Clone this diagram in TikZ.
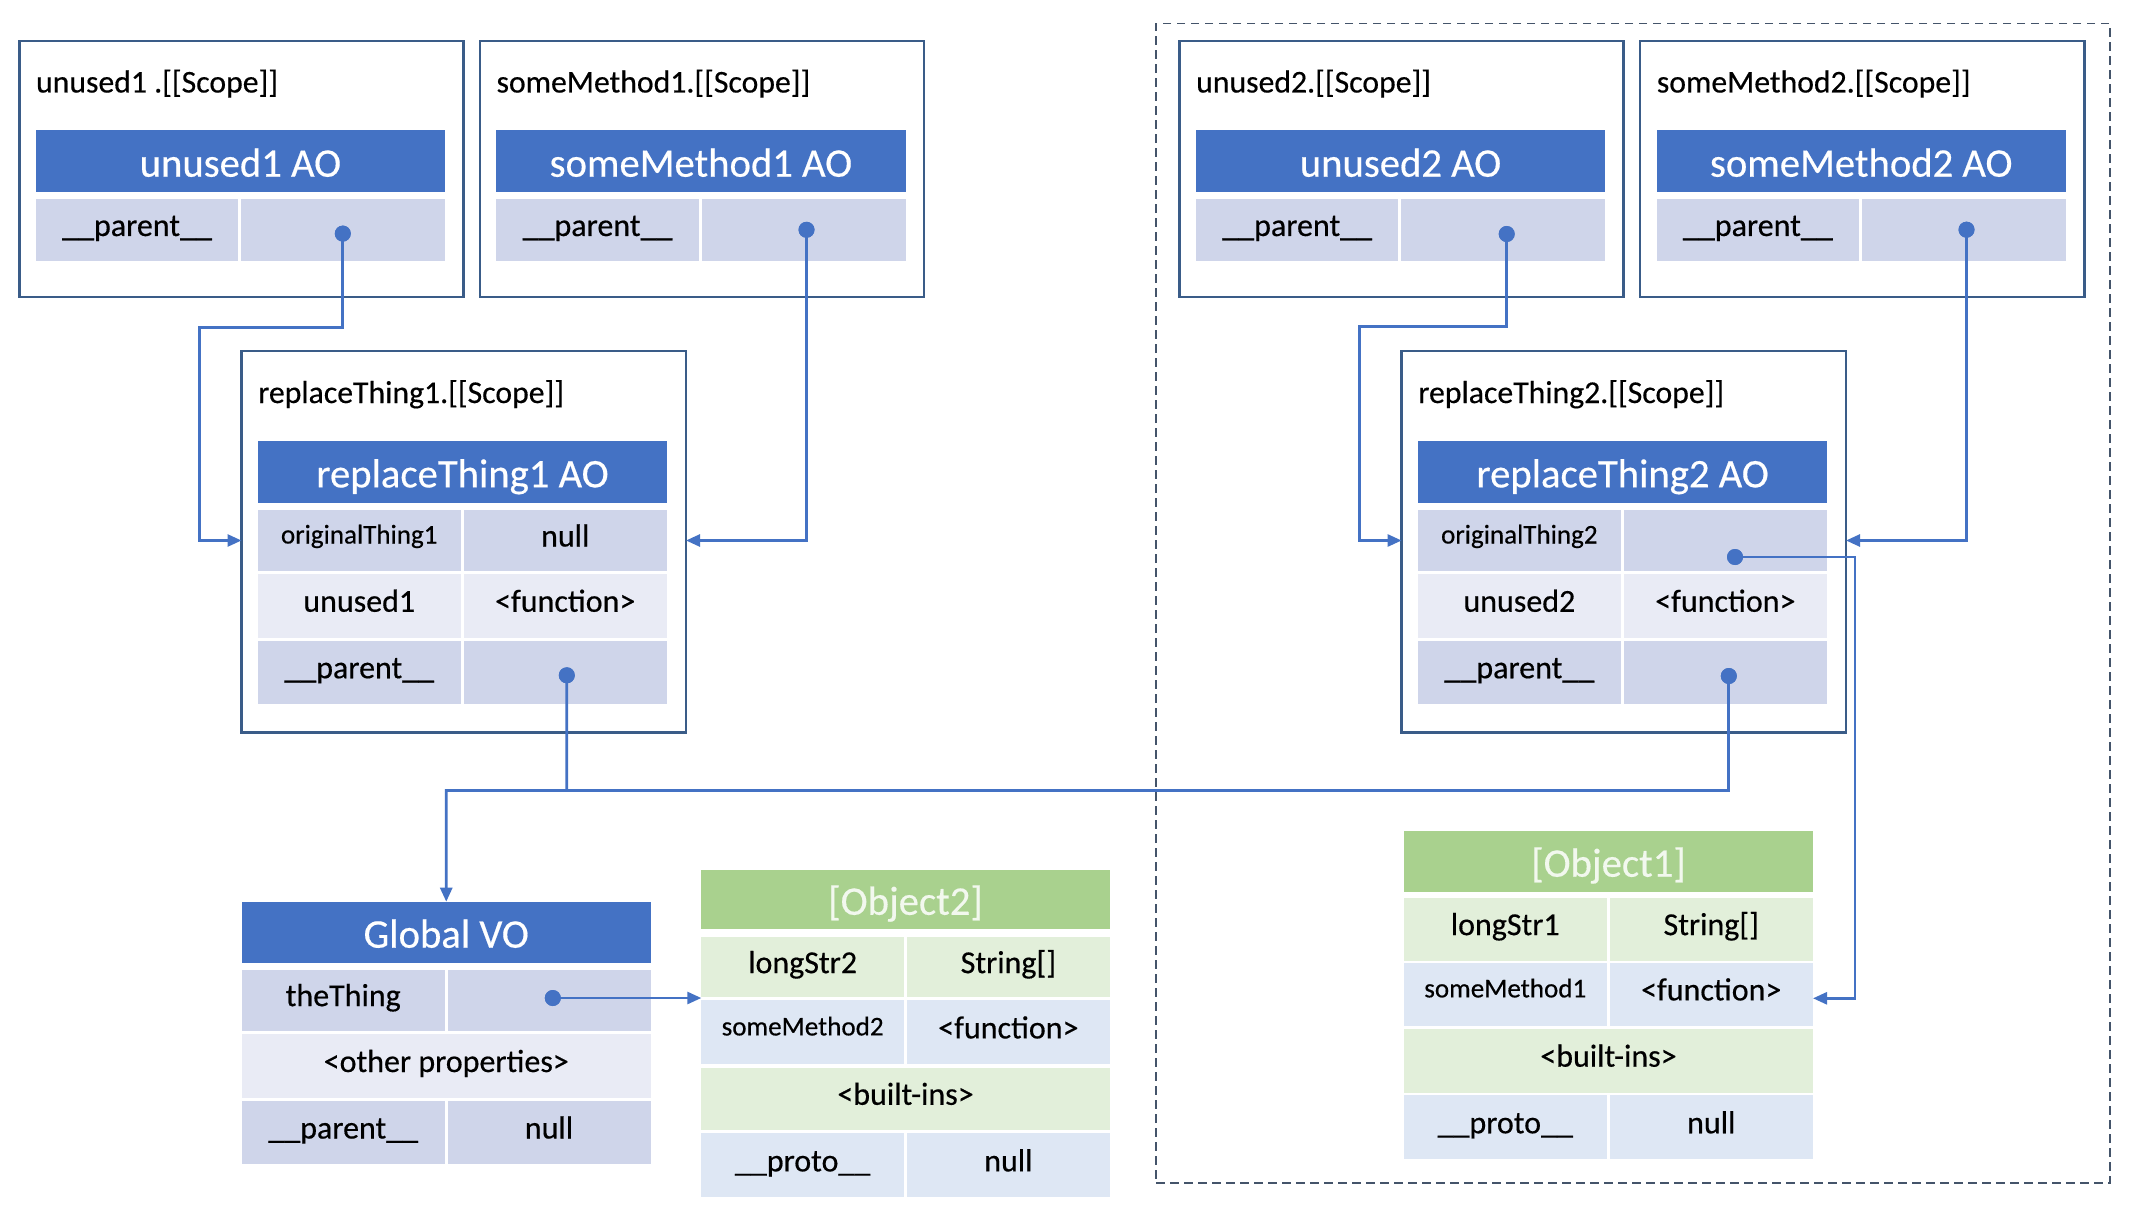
\documentclass[tikz,border=0pt]{standalone}
\usepackage{fontspec}
\setmainfont{Carlito}[FakeBold=0.4]
\usetikzlibrary{arrows.meta,calc}

\definecolor{hdrblue}{HTML}{4472C4}
\definecolor{lavdark}{HTML}{CFD5EA}
\definecolor{lavlight}{HTML}{E9EBF5}
\definecolor{grnhdr}{HTML}{A9D18E}
\definecolor{grnrow}{HTML}{E2EFDA}
\definecolor{bluerow}{HTML}{DEE7F4}
\definecolor{grntxt}{HTML}{F2F8EE}
\definecolor{scopeborder}{HTML}{3A5C88}
\definecolor{dashcol}{HTML}{44546A}
\definecolor{conncol}{HTML}{4472C4}

\newcommand\mkcell[7]{%
  \node[cellbase,#6,minimum width={0.75pt*(#4-#2)},minimum height={0.75pt*(#5-#3)}] (#1) at ({(#2+#4)/2},{(#3+#5)/2}) {#7};}

\tikzset{
  cellbase/.style={rectangle,inner sep=0pt,outer sep=0pt,align=center},
  hdr/.style={fill=hdrblue,text=white,font=\fontsize{30.5}{34}\selectfont,text height=26pt,text depth=2.8pt},
  ghdr/.style={fill=grnhdr,text=grntxt,font=\fontsize{30.5}{34}\selectfont,text height=26pt,text depth=2.8pt},
  rtext/.style={font=\fontsize{24}{28}\selectfont,text height=13pt,text depth=4pt},
  stext/.style={font=\fontsize{20.3}{24}\selectfont,text height=9pt,text depth=4.5pt},
  ld/.style={fill=lavdark,rtext},
  ll/.style={fill=lavlight,rtext},
  lds/.style={fill=lavdark,stext},
  gr/.style={fill=grnrow,rtext},
  br/.style={fill=bluerow,rtext},
  brs/.style={fill=bluerow,stext},
  scopebox/.style={draw=scopeborder,line width=1.7pt,fill=white},
  outerdash/.style={draw=dashcol,line width=1.2pt,dash pattern=on 6.5pt off 4pt},
  title/.style={anchor=base west,font=\fontsize{23.8}{28}\selectfont,inner sep=0pt},
  dot/.style={circle,fill=conncol,inner sep=0pt,minimum size=12pt},
  conn/.style={draw=conncol,line width=2pt},
  arr/.style={conn,-{Triangle[length=10.5pt,width=9pt]}},
}

\begin{document}
\begin{tikzpicture}[x=0.75pt,y=-0.75pt]
\fill[white] (0,0) rectangle (2136,1216);
\useasboundingbox (0,0) rectangle (2136,1216);

% dashed group
\mkcell{grp}{1156}{23.5}{2110}{1182.7}{outerdash}{}

% ---------- top scopes ----------
\mkcell{Su1}{19.5}{41.3}{463.5}{296.8}{scopebox}{}
\mkcell{Sm1}{480}{41.3}{924}{296.8}{scopebox}{}
\mkcell{Su2}{1179.6}{41.3}{1623.6}{296.8}{scopebox}{}
\mkcell{Sm2}{1640.3}{41.3}{2084.5}{296.8}{scopebox}{}

\node[title] (tu1) at (35.8,92.5) {unused1 .[[Scope]]};
\node[title] (tm1) at (496.3,92.5) {someMethod1.[[Scope]]};
\node[title] (tu2) at (1195.9,92.5) {unused2.[[Scope]]};
\node[title] (tm2) at (1656.6,92.5) {someMethod2.[[Scope]]};

\mkcell{u1h}{35.8}{130.5}{445}{192}{hdr}{unused1 AO}
\mkcell{u1k}{35.8}{199.5}{238.3}{260.5}{ld}{\_\_parent\_\_}
\mkcell{u1v}{241.3}{199.5}{445}{260.5}{ld}{}

\mkcell{m1h}{496.3}{130.5}{905.5}{192}{hdr}{someMethod1 AO}
\mkcell{m1k}{496.3}{199.5}{698.8}{260.5}{ld}{\_\_parent\_\_}
\mkcell{m1v}{701.8}{199.5}{905.5}{260.5}{ld}{}

\mkcell{u2h}{1195.9}{130.5}{1605.1}{192}{hdr}{unused2 AO}
\mkcell{u2k}{1195.9}{199.5}{1398.4}{260.5}{ld}{\_\_parent\_\_}
\mkcell{u2v}{1401.4}{199.5}{1605.1}{260.5}{ld}{}

\mkcell{m2h}{1656.6}{130.5}{2065.8}{192}{hdr}{someMethod2 AO}
\mkcell{m2k}{1656.6}{199.5}{1859.1}{260.5}{ld}{\_\_parent\_\_}
\mkcell{m2v}{1862.1}{199.5}{2065.8}{260.5}{ld}{}

% ---------- replaceThing scopes ----------
\mkcell{Sr1}{241.5}{351}{686}{732.5}{scopebox}{}
\mkcell{Sr2}{1401.6}{351}{1846}{732.5}{scopebox}{}

\node[title] (tr1) at (258,403) {replaceThing1.[[Scope]]};
\node[title] (tr2) at (1418.1,403) {replaceThing2.[[Scope]]};

\mkcell{r1h}{258}{441.3}{667}{502.5}{hdr}{replaceThing1 AO}
\mkcell{r1a}{258}{510}{460.5}{571}{lds}{originalThing1}
\mkcell{r1av}{463.5}{510}{667}{571}{ld}{null}
\mkcell{r1b}{258}{574}{460.5}{637.5}{ll}{unused1}
\mkcell{r1bv}{463.5}{574}{667}{637.5}{ll}{<function>}
\mkcell{r1c}{258}{640.5}{460.5}{704}{ld}{\_\_parent\_\_}
\mkcell{r1cv}{463.5}{640.5}{667}{704}{ld}{}

\mkcell{r2h}{1418.1}{441.3}{1827.1}{502.5}{hdr}{replaceThing2 AO}
\mkcell{r2a}{1418.1}{510}{1620.6}{571}{lds}{originalThing2}
\mkcell{r2av}{1623.6}{510}{1827.1}{571}{ld}{}
\mkcell{r2b}{1418.1}{574}{1620.6}{637.5}{ll}{unused2}
\mkcell{r2bv}{1623.6}{574}{1827.1}{637.5}{ll}{<function>}
\mkcell{r2c}{1418.1}{640.5}{1620.6}{704}{ld}{\_\_parent\_\_}
\mkcell{r2cv}{1623.6}{640.5}{1827.1}{704}{ld}{}

% ---------- Global VO ----------
\mkcell{gvo}{242}{901.7}{650.5}{962.7}{hdr}{Global VO}
\mkcell{gva}{242}{969.6}{444.5}{1030.6}{ld}{theThing}
\mkcell{gvav}{447.5}{969.6}{650.5}{1030.6}{ld}{}
\mkcell{gvb}{242}{1034}{650.5}{1098}{ll}{<other properties>}
\mkcell{gvc}{242}{1101}{444.5}{1164}{ld}{\_\_parent\_\_}
\mkcell{gvcv}{447.5}{1101}{650.5}{1164}{ld}{null}

% ---------- Object2 ----------
\mkcell{o2h}{701.3}{869.6}{1109.8}{929}{ghdr}{[Object2]}
\mkcell{o2a}{701.3}{937}{904}{997.3}{gr}{longStr2}
\mkcell{o2av}{907}{937}{1109.8}{997.3}{gr}{String[]}
\mkcell{o2b}{701.3}{1000.4}{904}{1064.4}{brs}{someMethod2}
\mkcell{o2bv}{907}{1000.4}{1109.8}{1064.4}{br}{<function>}
\mkcell{o2c}{701.3}{1067.6}{1109.8}{1130}{gr}{<built-ins>}
\mkcell{o2d}{701.3}{1133.4}{904}{1197.3}{br}{\_\_proto\_\_}
\mkcell{o2dv}{907}{1133.4}{1109.8}{1197.3}{br}{null}

% ---------- Object1 ----------
\mkcell{o1h}{1404}{831}{1813}{891.5}{ghdr}{[Object1]}
\mkcell{o1a}{1404}{897.7}{1606.5}{960.5}{gr}{longStr1}
\mkcell{o1av}{1609.5}{897.7}{1813}{960.5}{gr}{String[]}
\mkcell{o1b}{1404}{962.7}{1606.5}{1026}{brs}{someMethod1}
\mkcell{o1bv}{1609.5}{962.7}{1813}{1026}{br}{<function>}
\mkcell{o1c}{1404}{1028.7}{1813}{1092.7}{gr}{<built-ins>}
\mkcell{o1d}{1404}{1095.3}{1606.5}{1159.3}{br}{\_\_proto\_\_}
\mkcell{o1dv}{1609.5}{1095.3}{1813}{1159.3}{br}{null}

% ---------- dots ----------
\node[dot] (du1) at (342.8,233.6) {};
\node[dot] (dm1) at (806.5,229.8) {};
\node[dot] (du2) at (1506.7,234) {};
\node[dot] (dm2) at (1966.5,229.7) {};
\node[dot] (dr1) at (566.8,675.3) {};
\node[dot] (dot2) at (1735,557) {};
\node[dot] (dr2) at (1728.8,676) {};
\node[dot] (dth) at (552.8,998) {};

% ---------- bend points ----------
\coordinate (b1) at (199.5,327.5);
\coordinate (b5) at (1359.4,326.4);
\coordinate (bus) at (446.2,790.5);
\coordinate (b7) at (1855,998.3);

% ---------- connectors ----------
\draw[arr] (du1.center) |- (b1) |- (Sr1.west |- r1a.center);
\draw[arr] (dm1.center) |- (Sr1.east |- r1a.center);
\draw[conn] (dr2.center) |- (bus);
\draw[arr] (dr1.center) |- (bus) -- (gvo.north);
\draw[arr] (dth.center) -- (dth.center -| o2h.west);
\draw[arr] (du2.center) |- (b5) |- (Sr2.west |- r2a.center);
\draw[arr] (dm2.center) |- (Sr2.east |- r2a.center);
\draw[arr] (dot2.center) -| (b7) -- (b7 -| o1h.east);

% redraw dots on top
\foreach \d in {du1,dm1,du2,dm2,dr1,dot2,dr2,dth}{\fill[conncol] (\d) circle[radius=8];}
\end{tikzpicture}
\end{document}
